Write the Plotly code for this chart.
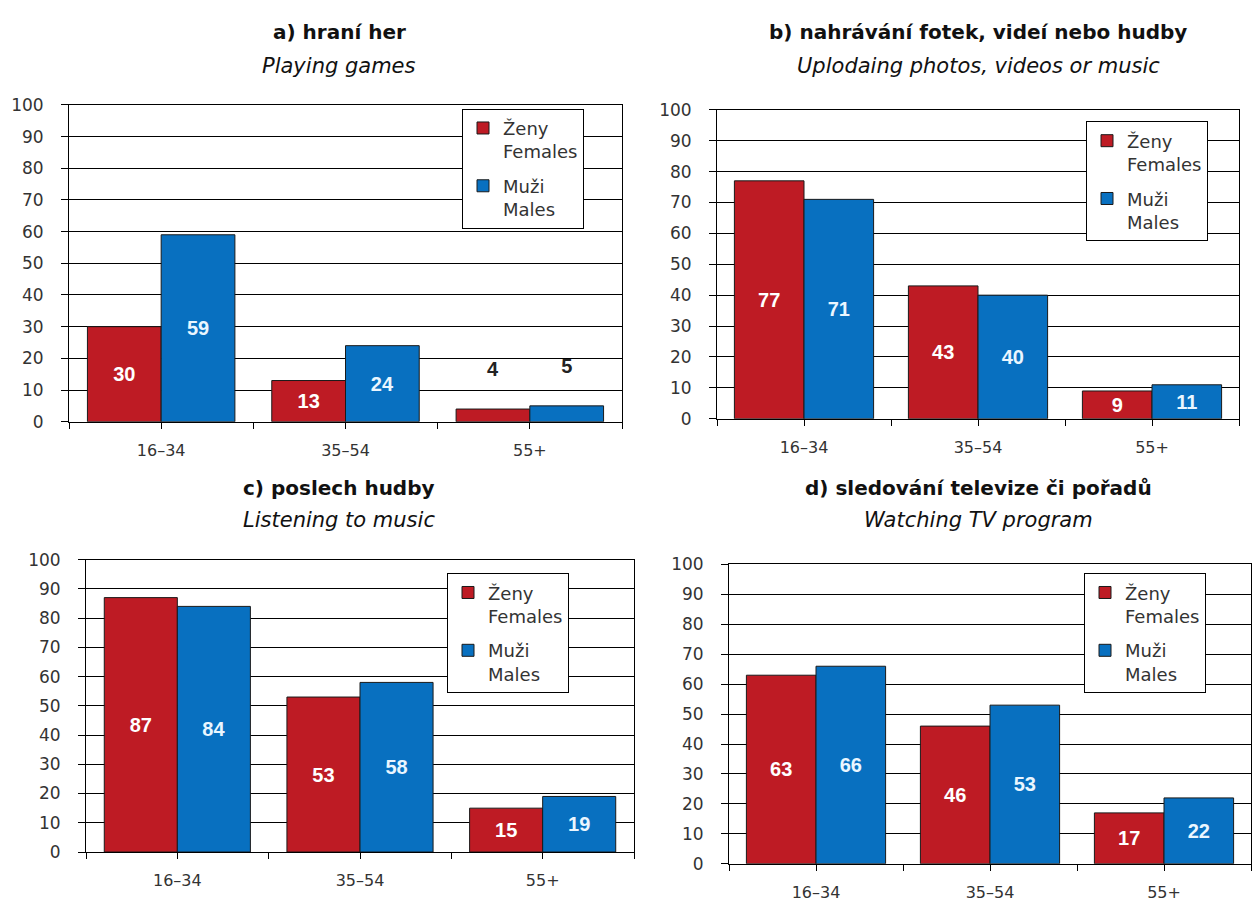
import plotly.graph_objects as go

# ---- data ----
categories = ["16–34", "35–54", "55+"]
titles_cz = ["a) hraní her", "b) nahrávání fotek, videí nebo hudby",
             "c) poslech hudby", "d) sledování televize či pořadů"]
titles_en = ["Playing games", "Uplodaing photos, videos or music",
             "Listening to music", "Watching TV program"]
females = [
    [30, 13, 4],
    [77, 43, 9],
    [87, 53, 15],
    [63, 46, 17],
]
males = [
    [59, 24, 5],
    [71, 40, 11],
    [84, 58, 19],
    [66, 53, 22],
]
legend_f = "Ženy<br>Females"
legend_m = "Muži<br>Males"
y_ticks = [0, 10, 20, 30, 40, 50, 60, 70, 80, 90, 100]

# ---- layout geometry (pixels in a 1255x907 canvas) ----
W, H = 1255, 907
plots = [  # x0, x1, ytop, ybottom
    (69, 622, 97, 421),
    (717, 1239, 102, 418),
    (86, 634, 562, 861),
    (729, 1251, 567, 873),
]
legend_pos = [(462, 101), (1086, 114), (447, 576), (1084, 576)]
title_pos = [(339, 22, 57), (978, 22, 57), (339, 489, 522), (978, 489, 522)]

RED = "#BE1B24"
BLUE = "#0870C0"
FONT = "DejaVu Sans, Liberation Sans, Arial, sans-serif"
FONT_NARROW = "Liberation Sans Narrow, Arial Narrow, Liberation Sans, sans-serif"

fig = go.Figure()
xs = list(range(len(categories)))
tickvals = []
ticktext = []
for i in range(len(categories)):
    tickvals += [i - 0.5, i]
    ticktext += ["", categories[i]]
tickvals.append(len(categories) - 0.5)
ticktext.append("")


def label(v):
    # small bars carry their label above, with a blank line as spacing
    return str(v) if v >= 8 else str(v) + "<br> "


for k in range(4):
    ax = "" if k == 0 else str(k + 1)
    lg = "legend" if k == 0 else f"legend{k + 1}"
    for gi, (vals, name, col, tcol) in enumerate(
            [(females[k], legend_f, RED, "white"),
             (males[k], legend_m, BLUE, "#EAF6FF")]):
        fig.add_trace(go.Bar(
            x=xs, y=vals, name=name,
            xaxis="x" + ax, yaxis="y" + ax, legend=lg,
            legendgroup=f"g{k}_{gi}",
            marker=dict(color=col, line=dict(color="#1a1a1a", width=1)),
            text=[label(v) for v in vals],
            textposition=["inside" if v >= 8 else "outside" for v in vals],
            insidetextanchor="middle",
            textangle=0,
            constraintext="none",
            insidetextfont=dict(family=FONT_NARROW, size=20, color=tcol, weight="bold"),
            outsidetextfont=dict(family=FONT_NARROW, size=20, color="#222", weight="bold"),
            cliponaxis=False,
            hoverinfo="skip",
        ))
    x0, x1, yt, yb = plots[k]
    fig.layout["xaxis" + ax] = dict(
        domain=[x0 / W, x1 / W], anchor="y" + ax,
        range=[-0.5, len(categories) - 0.5],
        tickmode="array", tickvals=tickvals, ticktext=ticktext,
        ticks="outside", ticklen=6, tickcolor="black", tickwidth=1,
        showline=True, linecolor="black", linewidth=1, mirror=True,
        showgrid=False, zeroline=False,
        tickfont=dict(family=FONT, size=16, color="#333"),
        ticklabelstandoff=8,
    )
    fig.layout["yaxis" + ax] = dict(
        domain=[1 - yb / H, 1 - yt / H], anchor="x" + ax,
        range=[0, 100], tickmode="array", tickvals=y_ticks,
        ticks="outside", ticklen=7, tickcolor="black", tickwidth=1,
        showline=True, linecolor="black", linewidth=1, mirror=True,
        showgrid=True, gridcolor="black", gridwidth=1, zeroline=False,
        tickfont=dict(family=FONT, size=17, color="#333"),
        ticklabelstandoff=14,
    )
    lx, ly = legend_pos[k]
    fig.layout[lg] = dict(
        x=lx / W, y=1 - ly / H, xanchor="left", yanchor="top",
        xref="paper", yref="paper",
        bgcolor="white", bordercolor="black", borderwidth=1,
        font=dict(family=FONT, size=18, color="#333"),
        valign="top", tracegroupgap=8, itemwidth=30,
        traceorder="grouped",
    )
    tx, ty1, ty2 = title_pos[k]
    fig.add_annotation(x=tx / W, y=1 - ty1 / H, xref="paper", yref="paper",
                       text="<b>" + titles_cz[k] + "</b>", showarrow=False,
                       font=dict(family=FONT, size=20, color="#111"),
                       xanchor="center", yanchor="middle")
    fig.add_annotation(x=tx / W, y=1 - ty2 / H, xref="paper", yref="paper",
                       text="<i>" + titles_en[k] + "</i>", showarrow=False,
                       font=dict(family=FONT, size=21, color="#111"),
                       xanchor="center", yanchor="middle")

fig.update_layout(
    width=W, height=H,
    margin=dict(l=0, r=0, t=0, b=0),
    paper_bgcolor="white", plot_bgcolor="white",
    barmode="group", bargap=0.2, bargroupgap=0,
    showlegend=True,
)

fig.write_html("out.html", config={"displayModeBar": False},
               post_script="document.body.style.margin='0';document.body.style.overflow='hidden';")
